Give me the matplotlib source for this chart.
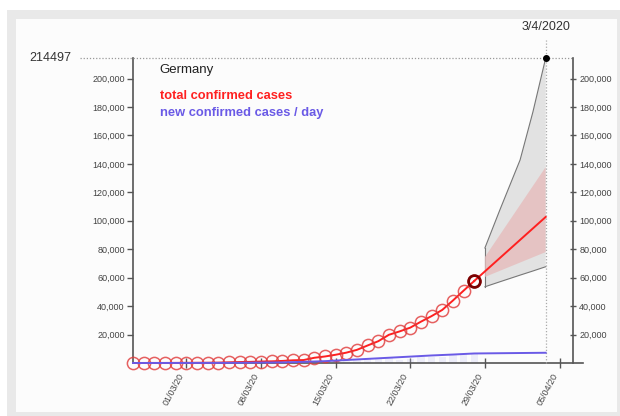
import numpy as np
import matplotlib.pyplot as plt
from matplotlib.patches import Rectangle
from matplotlib.ticker import FuncFormatter

plt.rcParams['font.family'] = ['Liberation Sans', 'DejaVu Sans']

# day numbers counted from 01/03/2020
days = list(range(-5, 28))
total_cases = [17, 27, 46, 48, 79, 130, 159, 196, 262, 482, 670, 799, 1040, 1176,
               1457, 1908, 2078, 3675, 4585, 5795, 7272, 9257, 12327, 15320, 19848,
               22213, 24873, 29056, 32986, 37323, 43938, 50871, 57695]

# smoothed new cases per day (runs on into the forecast)
new_days = [-5, 0, 3, 5, 7, 9, 11, 13, 15, 17, 19, 21, 23, 25, 27, 33.7]
new_cases = [0, 30, 80, 150, 300, 450, 800, 1300, 2100, 2900, 3700, 4500, 5300,
             5950, 6700, 7200]

# forecast of total cases
fc_days = [27, 33.7]
fc_total = [57695, 102700]
ci_days = [28, 33.7]
ci_low = [60500, 78000]
ci_high = [74500, 137800]
pi_days = [28, 29.4, 31.3, 32.5, 33.7]
pi_low = [53600, 57100, 61800, 64700, 67700]
pi_high = [80900, 107600, 142800, 176500, 214497]

max_value = 214497
end_day = 33.7
end_label = '3/4/2020'
country = 'Germany'

tick_days = [0, 7, 14, 21, 28, 35]
tick_labels = ['01/03/20', '08/03/20', '15/03/20', '22/03/20', '29/03/20', '05/04/20']
y_ticks = list(range(20000, 200001, 20000))

fig = plt.figure(figsize=(6.2, 4.16), dpi=100)
fig.patch.set_facecolor('white')
fig.patches.append(Rectangle((7 / 620, 0), 613 / 620, 406 / 416, transform=fig.transFigure,
                             facecolor='#e9e9e9', edgecolor='none', zorder=-10))
fig.patches.append(Rectangle((16 / 620, 4 / 416), 601 / 620, 393 / 416, transform=fig.transFigure,
                             facecolor='#fcfcfc', edgecolor='none', zorder=-9))

ax = fig.add_axes([133 / 620, 53 / 416, 450 / 620, 305 / 416])
ax.patch.set_visible(False)
ax.set_xlim(-5, 37.2)
ax.set_ylim(0, max_value)

axis_col = '#555555'
for s in ['top', 'right']:
    ax.spines[s].set_visible(False)
for s in ['left', 'bottom']:
    ax.spines[s].set_color(axis_col)
    ax.spines[s].set_linewidth(1.2)

fmt = FuncFormatter(lambda v, p: '{:,}'.format(int(v)))
ax.set_yticks(y_ticks)
ax.yaxis.set_major_formatter(fmt)
ax.tick_params(axis='y', direction='out', length=4, width=1, color=axis_col,
               labelsize=6.5, labelcolor='#444444', pad=2)
ax.set_xticks(tick_days)
ax.set_xticklabels(tick_labels, rotation=62, ha='right', va='top')
ax.tick_params(axis='x', direction='inout', length=7, width=1, color=axis_col,
               labelsize=6.5, labelcolor='#444444', pad=3)

# second value axis on the right
ax2 = ax.twinx()
ax2.set_ylim(0, max_value)
for s in ['top', 'left', 'bottom']:
    ax2.spines[s].set_visible(False)
ax2.spines['right'].set_position(('axes', 440 / 450))
ax2.spines['right'].set_color(axis_col)
ax2.spines['right'].set_linewidth(1.2)
ax2.set_yticks(y_ticks)
ax2.yaxis.set_major_formatter(fmt)
ax2.tick_params(axis='y', direction='inout', length=5, width=1, color=axis_col,
                labelsize=6.5, labelcolor='#444444', pad=2)

# prediction bands
ax.fill_between(pi_days, pi_low, pi_high, facecolor='#e2e2e2', edgecolor='none', zorder=1)
ax.plot(pi_days, pi_high, color='#777777', lw=0.8, zorder=2)
ax.plot(pi_days, pi_low, color='#777777', lw=0.8, zorder=2)
ax.plot([pi_days[0], pi_days[0]], [pi_low[0], pi_high[0]], color='#777777', lw=0.8, zorder=2)
ax.fill_between(ci_days, ci_low, ci_high, facecolor='#e6bcbc', edgecolor='none',
                alpha=0.8, zorder=2)

# daily new cases as faint bars
daily = np.diff([0] + total_cases)
ax.bar(days, daily, width=0.7, color='#c4c4f2', alpha=0.25, zorder=2)

# total confirmed cases
ax.plot(days, total_cases, color='#ff2020', lw=1.4, zorder=4, clip_on=False)
ax.plot(days, total_cases, 'o', ms=8.8, mfc='none', mec='#e03a3a', mew=1.1,
        alpha=0.8, zorder=4, clip_on=False)
ax.plot(fc_days, fc_total, color='#ff2020', lw=1.4, zorder=4)
ax.plot(days[-1], total_cases[-1], 'o', ms=8.5, mfc='none', mec='#7a0000', mew=2, zorder=5)

# new cases per day
ax.plot(new_days, new_cases, color='#6a5ae6', lw=1.4, zorder=5, clip_on=False)

# max marker and guide lines
ax.plot([-10, 36.3], [max_value, max_value], ls=(0, (1, 1.5)), color='#999999',
        lw=0.9, zorder=3, clip_on=False)
ax.plot([end_day, end_day], [0, 227500], ls=(0, (1, 1.5)), color='#aaaaaa',
        lw=0.9, zorder=3, clip_on=False)
ax.plot(end_day, max_value, 'o', ms=4, color='black', zorder=6, clip_on=False)
ax.text(-10.8, max_value, str(max_value), ha='right', va='center', fontsize=9,
        color='#333333')
ax.text(end_day, 236000, end_label, ha='center', va='center', fontsize=9, color='#333333')

# legend text
ax.text(-2.5, 206000, country, ha='left', va='center', fontsize=9.5, color='#222222')
ax.text(-2.5, 187700, 'total confirmed cases', ha='left', va='center', fontsize=9.3,
        fontweight='bold', color='#ff2020')
ax.text(-2.5, 175800, 'new confirmed cases / day', ha='left', va='center', fontsize=9.3,
        fontweight='bold', color='#6a5ae6')

fig.savefig('out.png', dpi=100)
